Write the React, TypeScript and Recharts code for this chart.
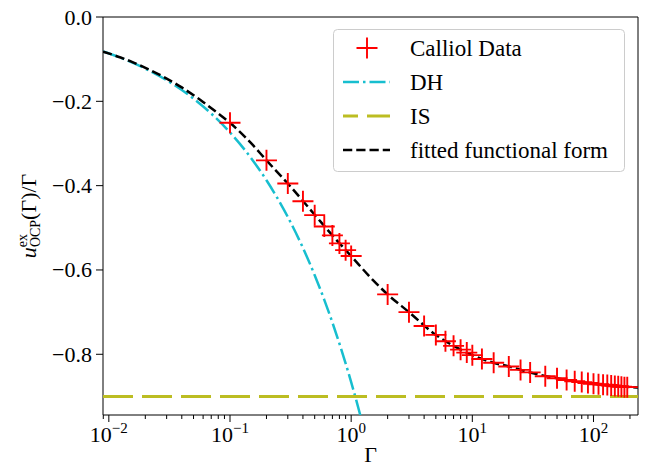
import {
  ComposedChart,
  Legend,
  Line,
  ReferenceArea,
  Scatter,
  XAxis,
  YAxis,
} from 'recharts';

// Caillol simulation points
const caillolGamma = [
  0.1, 0.2, 0.3, 0.4, 0.5, 0.6, 0.7, 0.8, 0.9, 1, 2, 3, 4, 5, 6, 7, 8, 9, 10, 12, 15, 20, 25, 30,
  40, 50, 60, 70, 80, 90, 100, 110, 120, 130, 140, 150, 160, 170, 180, 190,
];
const caillolU = [
  -0.251, -0.34, -0.395, -0.437, -0.47, -0.497, -0.518, -0.537, -0.553, -0.567, -0.658, -0.7,
  -0.733, -0.754, -0.769, -0.78, -0.789, -0.796, -0.802, -0.811, -0.82, -0.829, -0.837, -0.843,
  -0.852, -0.857, -0.861, -0.864, -0.866, -0.868, -0.87, -0.871, -0.872, -0.873, -0.874, -0.875,
  -0.876, -0.877, -0.878, -0.878,
];

// Debye-Hueckel limit
const dhGamma = [
  0.00895, 0.0125, 0.02, 0.03, 0.05, 0.07, 0.1, 0.15, 0.2, 0.3, 0.4, 0.5, 0.6, 0.7, 0.8, 0.9, 1.0,
  1.1, 1.19,
];
const dhU = [
  -0.0819, -0.0968, -0.1225, -0.15, -0.1936, -0.2291, -0.2739, -0.3354, -0.3873, -0.4743,
  -0.5477, -0.6124, -0.6708, -0.7246, -0.7746, -0.8216, -0.866, -0.9083, -0.9447,
];

// ion-sphere limit
const isGamma = [0.00895, 233];
const isU = [-0.9, -0.9];

// fitted functional form
const fitGamma = [
  0.00895, 0.0125, 0.016, 0.022, 0.03, 0.04, 0.057, 0.08, 0.1, 0.15, 0.2, 0.3, 0.5, 0.7, 1, 1.5,
  2, 3, 5, 7, 10, 15, 20, 30, 50, 70, 100, 150, 233,
];
const fitU = [
  -0.082, -0.096, -0.108, -0.126, -0.146, -0.167, -0.197, -0.229, -0.251, -0.3, -0.34, -0.395,
  -0.469, -0.518, -0.567, -0.623, -0.658, -0.7, -0.754, -0.78, -0.802, -0.82, -0.829, -0.843,
  -0.857, -0.864, -0.87, -0.875, -0.879,
];

const majorTicks = [0.01, 0.1, 1, 10, 100];
const yTicks = [0, -0.2, -0.4, -0.6, -0.8];

const X_DOMAIN: [number, number] = [0.00895, 233];
const Y_DOMAIN: [number, number] = [-0.944, 0];

const RED = '#ff0000';
const DH_COLOR = '#17becf';
const IS_COLOR = '#bcbd22';
const FONT = '"Liberation Serif", "Times New Roman", serif';

const DH_DASH = '16 4 2.5 4';
const IS_DASH = '30 9';
const FIT_DASH = '9.25 4';

const zip = (xs: number[], ys: number[]) => xs.map((x, i) => ({ x, y: ys[i] }));
const caillolRows = zip(caillolGamma, caillolU);
const dhRows = zip(dhGamma, dhU);
const isRows = zip(isGamma, isU);
const fitRows = zip(fitGamma, fitU);

// majors plus 2..9 minors per decade, inside the domain
const xTicks: number[] = [];
for (let e = -3; e <= 2; e++) {
  for (let m = 1; m <= 9; m++) {
    const v = m * 10 ** e;
    if (v >= X_DOMAIN[0] && v <= X_DOMAIN[1]) xTicks.push(v);
  }
}

function PlusMarker(props: any) {
  const { cx, cy } = props;
  if (cx == null || cy == null) return null;
  const r = 10.5;
  return (
    <path
      d={`M${cx - r},${cy}H${cx + r}M${cx},${cy - r}V${cy + r}`}
      stroke={RED}
      strokeWidth={1.9}
      fill="none"
    />
  );
}

function XTick(props: any) {
  const { x, y, payload } = props;
  const v = payload.value as number;
  const exp = Math.round(Math.log10(v));
  const major = majorTicks.some((t) => Math.abs(t - v) < 1e-9 * v);
  return (
    <g>
      <line x1={x} x2={x} y1={y} y2={y + (major ? 7 : 4)} stroke="#000" strokeWidth={1} />
      {major && (
        <text x={x} y={y + 27} textAnchor="middle" fontSize={22} fontFamily={FONT} fill="#000">
          10
          <tspan dy={-9} fontSize={15}>
            {exp < 0 ? `\u2212${-exp}` : `${exp}`}
          </tspan>
        </text>
      )}
    </g>
  );
}

function YTick(props: any) {
  const { x, y, payload } = props;
  const v = payload.value as number;
  const label = v === 0 ? '0.0' : `\u2212${Math.abs(v).toFixed(1)}`;
  return (
    <g>
      <line x1={x - 7} x2={x} y1={y} y2={y} stroke="#000" strokeWidth={1} />
      <text x={x - 11} y={y + 7.5} textAnchor="end" fontSize={22} fontFamily={FONT} fill="#000">
        {label}
      </text>
    </g>
  );
}

function YLabel(props: any) {
  const vb = props.viewBox;
  const cy = vb.y + vb.height / 2;
  const bx = 36;
  return (
    <text
      x={bx}
      y={cy}
      transform={`rotate(-90, ${bx}, ${cy})`}
      textAnchor="middle"
      fontSize={22}
      fontFamily={FONT}
      fill="#000"
    >
      <tspan fontStyle="italic">u</tspan>
      <tspan fontSize={14} dy={-9}>
        ex
      </tspan>
      <tspan fontSize={14} dx={-13} dy={13}>
        OCP
      </tspan>
      <tspan dy={-4}>(Γ)/Γ</tspan>
    </text>
  );
}

function XLabel(props: any) {
  const vb = props.viewBox;
  return (
    <text
      x={vb.x + vb.width / 2}
      y={vb.y + 47}
      textAnchor="middle"
      fontSize={22}
      fontFamily={FONT}
      fill="#000"
    >
      Γ
    </text>
  );
}

const legendItems = [
  { label: 'Calliol Data', kind: 'marker' },
  { label: 'DH', kind: 'line', color: DH_COLOR, dash: DH_DASH, width: 2.5, offset: 0 },
  { label: 'IS', kind: 'line', color: IS_COLOR, dash: IS_DASH, width: 3, offset: 15 },
  { label: 'fitted functional form', kind: 'line', color: '#000', dash: FIT_DASH, width: 2.5, offset: 0 },
];

function LegendBox() {
  return (
    <svg width={293} height={144} style={{ display: 'block' }}>
      <rect
        x={0.5}
        y={0.5}
        width={291}
        height={142}
        rx={4}
        fill="#fff"
        fillOpacity={0.8}
        stroke="#cccccc"
        strokeWidth={1}
      />
      {legendItems.map((it, i) => {
        const cy = 19 + i * 34;
        return (
          <g key={it.label}>
            {it.kind === 'marker' ? (
              <PlusMarker cx={34} cy={cy} />
            ) : (
              <line
                x1={10}
                x2={57}
                y1={cy}
                y2={cy}
                stroke={it.color}
                strokeWidth={it.width}
                strokeDasharray={it.dash}
                strokeDashoffset={it.offset}
              />
            )}
            <text x={77} y={cy + 8} fontSize={23} fontFamily={FONT} fill="#000">
              {it.label}
            </text>
          </g>
        );
      })}
    </svg>
  );
}

export default function App() {
  return (
    <div style={{ position: 'absolute', left: 0, top: 0, background: '#fff', fontFamily: FONT }}>
      <ComposedChart width={648} height={472} margin={{ top: 17, right: 10, bottom: 0, left: 22 }}>
        <XAxis
          dataKey="x"
          type="number"
          scale="log"
          domain={X_DOMAIN}
          allowDataOverflow
          ticks={xTicks}
          interval={0}
          tick={<XTick />}
          tickLine={false}
          tickSize={0}
          tickMargin={0}
          axisLine={false}
          height={57}
          label={<XLabel />}
        />
        <YAxis
          dataKey="y"
          type="number"
          domain={Y_DOMAIN}
          allowDataOverflow
          ticks={yTicks}
          interval={0}
          tick={<YTick />}
          tickLine={false}
          tickSize={0}
          tickMargin={0}
          axisLine={false}
          width={81}
          label={<YLabel />}
        />
        <Scatter data={caillolRows} dataKey="y" shape={<PlusMarker />} isAnimationActive={false} />
        <Line
          data={dhRows}
          dataKey="y"
          type="monotone"
          stroke={DH_COLOR}
          strokeWidth={2.5}
          strokeDasharray={DH_DASH}
          dot={false}
          isAnimationActive={false}
        />
        <Line
          data={isRows}
          dataKey="y"
          type="linear"
          stroke={IS_COLOR}
          strokeWidth={3}
          strokeDasharray={IS_DASH}
          dot={false}
          isAnimationActive={false}
        />
        <Line
          data={fitRows}
          dataKey="y"
          type="monotone"
          stroke="#000"
          strokeWidth={2.5}
          strokeDasharray={FIT_DASH}
          dot={false}
          isAnimationActive={false}
        />
        <ReferenceArea
          x1={X_DOMAIN[0]}
          x2={X_DOMAIN[1]}
          y1={Y_DOMAIN[0]}
          y2={Y_DOMAIN[1]}
          fill="none"
          stroke="#000"
          strokeWidth={1}
          ifOverflow="visible"
        />
        <Legend
          layout="horizontal"
          verticalAlign="middle"
          align="center"
          wrapperStyle={{ left: 333, top: 29, width: 293, height: 144 }}
          content={() => <LegendBox />}
        />
      </ComposedChart>
    </div>
  );
}
